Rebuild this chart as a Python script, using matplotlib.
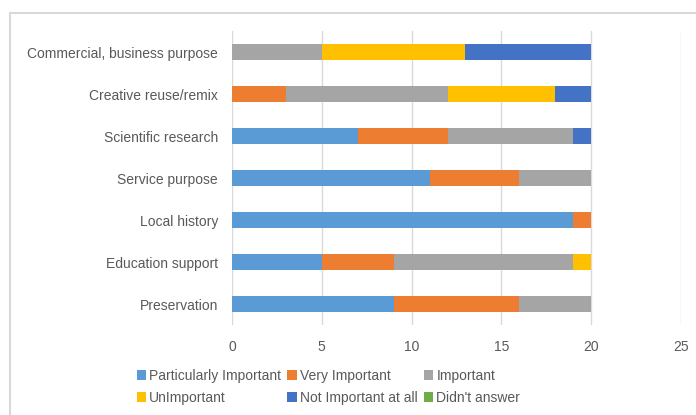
import numpy as np
import matplotlib.pyplot as plt
from matplotlib.patches import Rectangle

plt.rcParams['font.family'] = ['Liberation Sans', 'DejaVu Sans']

categories = ['Commercial, business purpose', 'Creative reuse/remix', 'Scientific research',
              'Service purpose', 'Local history', 'Education support', 'Preservation']
series_names = ['Particularly Important', 'Very Important', 'Important',
                'UnImportant', 'Not Important at all', "Didn't answer"]
particularly = [0, 0, 7, 11, 19, 5, 9]
very = [0, 3, 5, 5, 1, 4, 7]
important = [5, 9, 7, 4, 0, 10, 4]
unimportant = [8, 6, 0, 0, 0, 1, 0]
not_at_all = [7, 2, 1, 0, 0, 0, 0]
no_answer = [0, 0, 0, 0, 0, 0, 0]
colors = ['#5B9BD5', '#ED7D31', '#A5A5A5', '#FFC000', '#4472C4', '#70AD47']

fig = plt.figure(figsize=(6.96, 4.15), dpi=100)
ax = fig.add_axes([232/696, 1 - 325/415, 449/696, 294/415])

y = np.arange(len(categories))
left = np.zeros(len(categories))
handles = []
for name, vals, c in zip(series_names,
                         [particularly, very, important, unimportant, not_at_all, no_answer],
                         colors):
    h = ax.barh(y, vals, left=left, height=0.4, color=c, label=name, zorder=3)
    handles.append(h)
    left += np.array(vals)

ax.set_xlim(0, 25)
ax.set_ylim(len(categories) - 0.5, -0.5)
ax.set_yticks(y)
ax.set_yticklabels(categories)
ax.set_xticks([0, 5, 10, 15, 20, 25])
ax.tick_params(length=0, labelsize=10, colors='#595959', pad=11)
ax.tick_params(axis='y', pad=10)
ax.grid(axis='x', color='#d9d9d9', linewidth=1, zorder=0)
for s in ax.spines.values():
    s.set_visible(False)

order = [0, 3, 1, 4, 2, 5]
fig.legend([handles[i] for i in order], [series_names[i] for i in order],
           ncol=3, loc='upper left', bbox_to_anchor=(124/696, 1 - 356/415),
           frameon=False, fontsize=10, handlelength=0.7, handleheight=0.7,
           handletextpad=0.2, columnspacing=0.45, labelspacing=0.6,
           labelcolor='#595959')

fig.patches.append(Rectangle((10/696, -0.1), 1.0, 1 - 13/415 + 0.1,
                             transform=fig.transFigure, fill=False,
                             edgecolor='#d9d9d9', linewidth=1.5))

plt.savefig('out.png', dpi=100)
